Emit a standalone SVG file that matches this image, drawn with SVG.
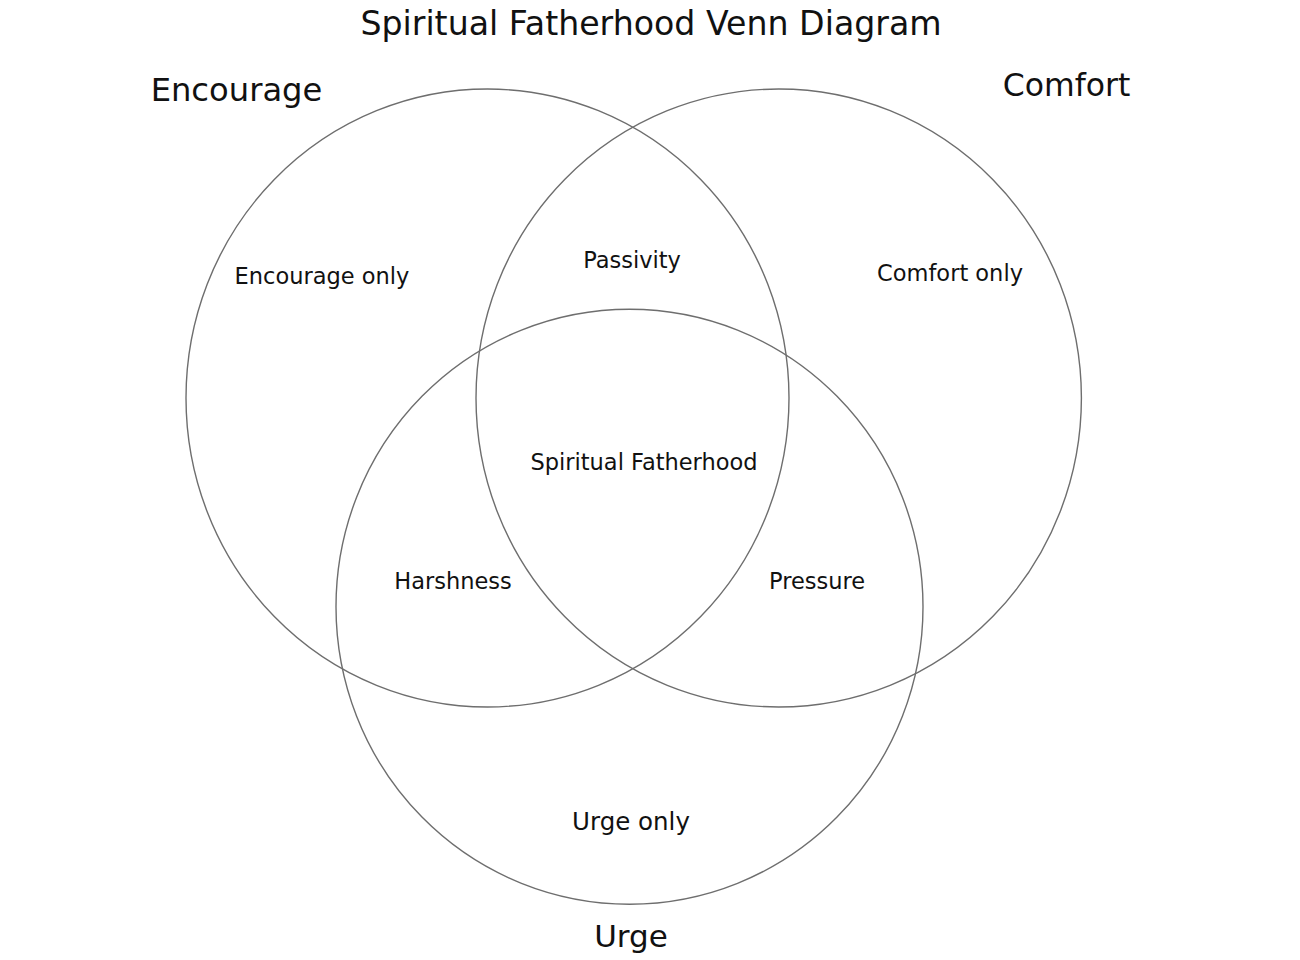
<svg xmlns="http://www.w3.org/2000/svg" width="1300" height="960" viewBox="0 0 1300 960">
<style>
.c{fill:none;stroke:#6e6e6e;stroke-width:1.4}
text{font-family:"DejaVu Sans","Liberation Sans",sans-serif;fill:#111;text-anchor:middle}
.t{font-size:33.2px}
.s{font-size:31.5px}
.r{font-size:22.5px}
</style>
<rect width="1300" height="960" fill="#fff"/>
<text class="t" x="651" y="35">Spiritual Fatherhood Venn Diagram</text>
<g id="encourage">
<ellipse class="c" cx="487.5" cy="398" rx="301.5" ry="309"/>
<text class="s" x="236.5" y="101" style="font-size:32.2px">Encourage</text>
</g>
<g id="comfort">
<ellipse class="c" cx="778.7" cy="398" rx="302.7" ry="309"/>
<text class="s" x="1066.5" y="96">Comfort</text>
</g>
<g id="urge">
<ellipse class="c" cx="629.5" cy="606.7" rx="293.5" ry="297.5"/>
<text class="s" x="631" y="947" style="font-size:31px">Urge</text>
</g>
<g id="regions">
<text class="r" x="322" y="284">Encourage only</text>
<text class="r" x="632" y="268">Passivity</text>
<text class="r" x="950" y="281">Comfort only</text>
<text class="r" x="644" y="470">Spiritual Fatherhood</text>
<text class="r" x="453" y="589">Harshness</text>
<text class="r" x="817" y="589">Pressure</text>
<text class="r" x="631" y="830" style="font-size:24.5px">Urge only</text>
</g>
<g id="connectors"/>
</svg>
